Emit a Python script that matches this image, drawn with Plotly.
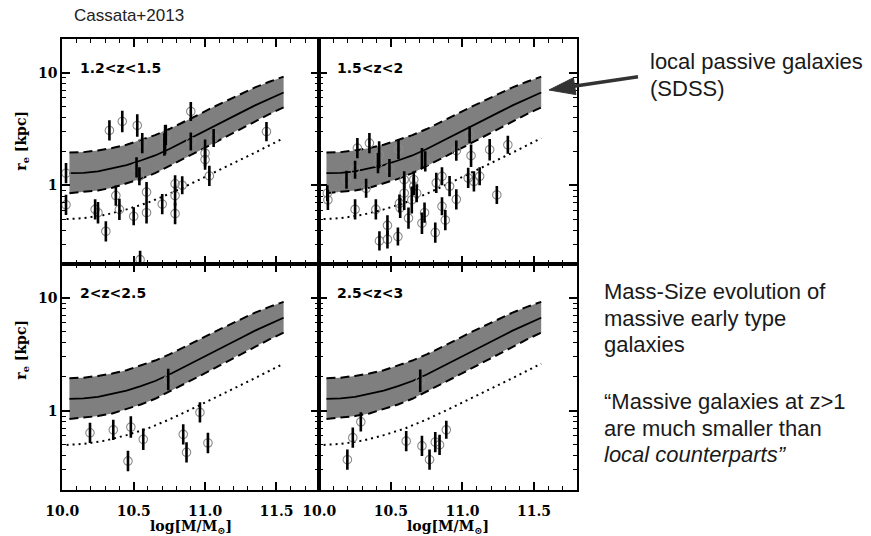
import plotly.graph_objects as go
from plotly.subplots import make_subplots

W, H = 871, 536

# ---- local (SDSS) passive-galaxy mass-size relation ----
sdss_mass = [10.05, 10.15, 10.25, 10.35, 10.45, 10.55, 10.65, 10.75,
             10.85, 10.95, 11.05, 11.15, 11.25, 11.35, 11.45, 11.55]
sdss_median = [1.28, 1.29, 1.33, 1.41, 1.51, 1.66, 1.84, 2.10,
               2.43, 2.82, 3.27, 3.80, 4.42, 5.13, 5.89, 6.68]
sdss_upper = [1.95, 1.97, 2.04, 2.14, 2.29, 2.51, 2.79, 3.16,
              3.63, 4.22, 4.90, 5.62, 6.46, 7.41, 8.32, 9.23]
sdss_lower = [0.85, 0.87, 0.90, 0.95, 1.04, 1.14, 1.28, 1.48,
              1.72, 2.00, 2.33, 2.72, 3.20, 3.72, 4.29, 4.92]

# ---- compactness threshold (dotted) ----
dot_mass = [10.03, 10.15, 10.30, 10.45, 10.60, 10.75, 10.90, 11.05, 11.20, 11.35, 11.55]
dot_re = [0.50, 0.51, 0.545, 0.61, 0.70, 0.84, 1.03, 1.27, 1.58, 1.95, 2.62]

# ---- high-z galaxies: log mass, r_e [kpc], error [dex] ----
p1_mass = [10.026, 10.026, 10.33, 10.42, 10.525, 10.56, 10.52, 10.54, 10.72, 10.715, 10.725,
           10.90, 10.90, 11.00, 11.00, 11.03, 11.06, 11.43, 10.23, 10.25, 10.305, 10.375,
           10.40, 10.50, 10.59, 10.59, 10.70, 10.79, 10.79, 10.79, 10.84, 10.545]
p1_re = [1.28, 0.67, 3.07, 3.69, 3.40, 2.37, 1.44, 1.20, 2.54, 2.30, 2.80,
         4.53, 2.45, 1.93, 1.69, 1.21, 2.63, 3.00, 0.61, 0.57, 0.39, 0.81,
         0.61, 0.53, 0.87, 0.57, 0.68, 1.03, 0.81, 0.56, 1.00, 0.218]
p1_err = [0.09, 0.09, 0.09, 0.095, 0.10, 0.09, 0.09, 0.08, 0.13, 0.10, 0.09,
          0.085, 0.08, 0.12, 0.09, 0.09, 0.08, 0.085, 0.09, 0.095, 0.09, 0.09,
          0.095, 0.08, 0.09, 0.095, 0.09, 0.075, 0.09, 0.095, 0.08, 0.08]

p2_mass = [10.056, 10.06, 10.19, 10.25, 10.266, 10.35, 10.418, 10.41, 10.49, 10.553, 10.717,
           10.74, 10.957, 11.05, 11.06, 11.19, 11.317, 10.327, 10.25, 10.395, 10.42, 10.476,
           10.476, 10.549, 10.56, 10.565, 10.593, 10.593, 10.623, 10.646, 10.66, 10.66,
           10.68, 10.717, 10.735, 10.81, 10.817, 10.857, 10.857, 10.88, 10.91, 10.957,
           11.04, 11.08, 11.12, 11.24]
p2_re = [0.85, 0.74, 1.12, 1.37, 2.14, 2.37, 1.87, 1.57, 1.42, 2.10, 1.74,
         1.63, 2.03, 2.81, 1.83, 2.07, 2.29, 0.94, 0.61, 0.61, 0.32, 0.44,
         0.33, 0.35, 0.69, 0.63, 0.85, 1.12, 0.51, 0.74, 0.98, 1.12,
         0.85, 0.46, 0.57, 0.38, 1.05, 1.20, 0.65, 0.49, 0.98, 0.75,
         1.16, 1.08, 1.20, 0.82]
p2_err = [0.07, 0.09, 0.08, 0.08, 0.09, 0.09, 0.12, 0.09, 0.08, 0.09, 0.09,
          0.09, 0.09, 0.075, 0.10, 0.095, 0.08, 0.085, 0.09, 0.09, 0.085, 0.09,
          0.08, 0.08, 0.08, 0.09, 0.15, 0.075, 0.095, 0.12, 0.08, 0.075,
          0.08, 0.095, 0.09, 0.09, 0.09, 0.08, 0.08, 0.09, 0.09, 0.09,
          0.09, 0.09, 0.08, 0.08]

p3_mass = [10.194, 10.357, 10.48, 10.46, 10.567, 10.742, 10.847, 10.87, 10.964, 11.02]
p3_re = [0.64, 0.68, 0.72, 0.36, 0.56, 1.90, 0.62, 0.43, 0.97, 0.52]
p3_err = [0.09, 0.09, 0.095, 0.09, 0.095, 0.095, 0.09, 0.09, 0.09, 0.09]

p4_mass = [10.196, 10.234, 10.29, 10.607, 10.717, 10.77, 10.81, 10.84, 10.887, 10.705]
p4_re = [0.37, 0.58, 0.80, 0.54, 0.49, 0.37, 0.53, 0.50, 0.68, 1.85]
p4_err = [0.09, 0.09, 0.085, 0.09, 0.09, 0.09, 0.09, 0.09, 0.08, 0.10]

panel_labels = ["1.2<z<1.5", "1.5<z<2", "2<z<2.5", "2.5<z<3"]
x_ticks = [10.0, 10.5, 11.0, 11.5]
y_ticks = [1, 10]
y_minor = [0.2, 0.3, 0.4, 0.5, 0.6, 0.7, 0.8, 0.9, 2, 3, 4, 5, 6, 7, 8, 9, 20]

panels = [
    (1, 1, p1_mass, p1_re, p1_err),
    (1, 2, p2_mass, p2_re, p2_err),
    (2, 1, p3_mass, p3_re, p3_err),
    (2, 2, p4_mass, p4_re, p4_err),
]

fig = make_subplots(rows=2, cols=2, horizontal_spacing=0, vertical_spacing=0)

for row, col, m, r, e in panels:
    # shaded scatter band of the local relation (closed polygon)
    band_x = sdss_mass + sdss_mass[::-1]
    band_y = sdss_upper + sdss_lower[::-1]
    fig.add_trace(go.Scatter(x=band_x, y=band_y, mode="lines", fill="toself",
                             fillcolor="#7f7f7f", line=dict(width=0),
                             hoverinfo="skip", showlegend=False),
                  row=row, col=col)
    for edge in (sdss_upper, sdss_lower):
        fig.add_trace(go.Scatter(x=sdss_mass, y=edge, mode="lines",
                                 line=dict(color="black", width=2, dash="9px,5px"),
                                 showlegend=False),
                      row=row, col=col)
    fig.add_trace(go.Scatter(x=sdss_mass, y=sdss_median, mode="lines",
                             line=dict(color="black", width=1.8), showlegend=False),
                  row=row, col=col)
    fig.add_trace(go.Scatter(x=dot_mass, y=dot_re, mode="lines",
                             line=dict(color="black", width=2, dash="2px,4px"),
                             showlegend=False),
                  row=row, col=col)

    # open circles first, black error bars drawn over them
    fig.add_trace(go.Scatter(x=m, y=r, mode="markers",
                             marker=dict(symbol="circle-open", size=8.5, color="#8a8a8a",
                                         line=dict(width=1.1)),
                             cliponaxis=False, showlegend=False),
                  row=row, col=col)
    ex, ey = [], []
    for mi, ri, di in zip(m, r, e):
        ex += [mi, mi, None]
        ey += [ri * 10 ** -di, ri * 10 ** di, None]
    fig.add_trace(go.Scatter(x=ex, y=ey, mode="lines", connectgaps=False,
                             line=dict(color="black", width=2.6),
                             cliponaxis=False, showlegend=False),
                  row=row, col=col)

xl = [62.3 / W, 319.3 / W]
xr = [319.3 / W, 577 / W]
yt = [1 - 264 / H, 1 - 39 / H]
yb = [1 - 490 / H, 1 - 264 / H]

tick_font = dict(family="DejaVu Serif", size=14, color="black", weight="bold")
axis_common = dict(showline=True, linewidth=2, linecolor="black", mirror="allticks",
                   ticks="inside", ticklen=8, tickwidth=1.5, tickcolor="black",
                   showgrid=False, zeroline=False, tickfont=tick_font, automargin=False)

domains = {1: (xl, yt), 2: (xr, yt), 3: (xl, yb), 4: (xr, yb)}
for i in range(1, 5):
    xd, yd = domains[i]
    xs = "" if i == 1 else str(i)
    fig.layout["xaxis" + xs].update(
        domain=xd, range=[10.0, 11.8], tickvals=x_ticks, tickformat=".1f",
        showticklabels=i > 2, ticklabelstandoff=7,
        minor=dict(ticks="inside", ticklen=4, tickwidth=1.2, tickcolor="black",
                   tick0=10.0, dtick=0.1),
        **axis_common)
    fig.layout["yaxis" + xs].update(
        domain=yd, type="log", range=[-0.7, 1.3], tickvals=y_ticks,
        ticktext=[str(v) for v in y_ticks], showticklabels=i in (1, 3),
        minor=dict(ticks="inside", ticklen=4, tickwidth=1.2, tickcolor="black",
                   tickvals=y_minor),
        **axis_common)

annotations = []
label_font = dict(family="DejaVu Sans", size=14, color="black", weight="bold")
for i, lab in enumerate(panel_labels, start=1):
    xs = "" if i == 1 else str(i)
    annotations.append(dict(text=lab, xref="x" + xs + " domain", yref="y" + xs + " domain",
                            x=0.062, y=0.87, xanchor="left", yanchor="middle",
                            showarrow=False, font=label_font))

title_font = dict(family="DejaVu Serif", size=14, color="black", weight="bold")
for xc in ((xl[0] + xl[1]) / 2, (xr[0] + xr[1]) / 2):
    annotations.append(dict(text="log[M/M<sub>⊙</sub>]", xref="paper", yref="paper",
                            x=xc, y=1 - 527 / H, xanchor="center", yanchor="middle",
                            showarrow=False, font=title_font))
for yc in (141, 350):
    annotations.append(dict(text="r<sub>e</sub> [kpc]", xref="paper", yref="paper",
                            x=21.7 / W, y=1 - yc / H, xanchor="center", yanchor="middle",
                            textangle=-90, showarrow=False, font=title_font))

annotations.append(dict(text="Cassata+2013", xref="paper", yref="paper",
                        x=71.7 / W, y=1 - 16 / H, xanchor="left", yanchor="middle",
                        showarrow=False,
                        font=dict(family="Liberation Sans", size=17, color="#222222")))

side_font = dict(family="Liberation Sans", size=22, color="#1a1a1a")
side_lines = [
    ("local passive galaxies", 648, 61.5),
    ("(SDSS)", 648, 88),
    ("Mass-Size evolution of", 601.7, 291.5),
    ("massive early type", 601.7, 318),
    ("galaxies", 601.7, 344.7),
    ("“Massive galaxies at z>1", 601.7, 401.5),
    ("are much smaller than", 601.7, 428),
    ("<i>local counterparts”</i>", 601.7, 454.7),
]
for txt, px, py in side_lines:
    annotations.append(dict(text=txt, xref="paper", yref="paper", x=px / W, y=1 - py / H,
                            xanchor="left", yanchor="middle", showarrow=False,
                            font=side_font))


def pp(x, y):
    return f"{x / W:.5f},{1 - y / H:.5f}"


# arrow pointing at the local relation
shapes = [
    dict(type="line", xref="paper", yref="paper", x0=638 / W, y0=1 - 76.7 / H,
         x1=572 / W, y1=1 - 86.6 / H, line=dict(color="#333333", width=3.5)),
    dict(type="path", xref="paper", yref="paper",
         path=f"M{pp(549, 90)} L{pp(573.4, 77.8)} L{pp(575.9, 94.6)} Z",
         fillcolor="#333333", line=dict(color="#333333", width=1)),
]

fig.update_layout(width=W, height=H, margin=dict(l=0, r=0, t=0, b=0, autoexpand=False),
                  paper_bgcolor="white", plot_bgcolor="white",
                  annotations=annotations, shapes=shapes, showlegend=False)

fig.write_html("out.html")
